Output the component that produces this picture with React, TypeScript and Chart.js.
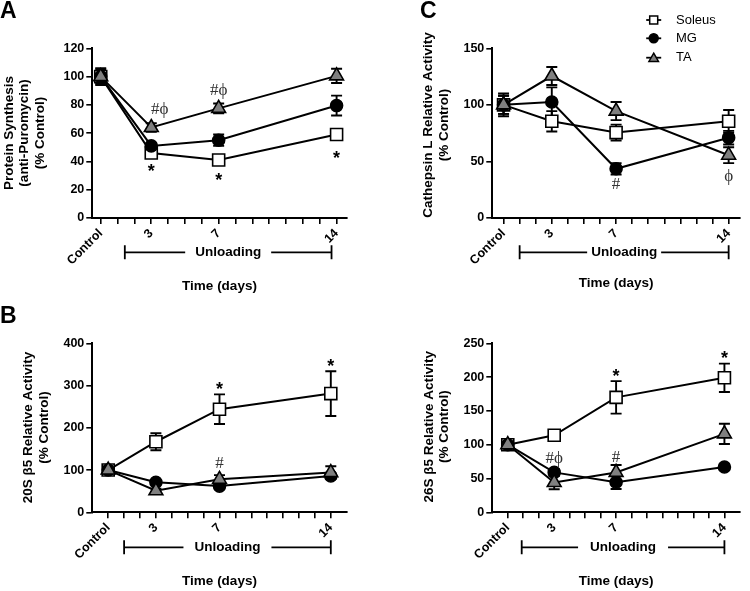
import React, { useEffect, useRef } from 'react';
import { Chart, registerables } from 'chart.js';

Chart.register(...registerables);

const FONT = "'Liberation Sans', Arial, Helvetica, sans-serif";
const SERIF = "'Liberation Serif', 'Times New Roman', serif";

// ---- shared data ----
const days = [0, 3, 7, 14];
const dayTicks = [0, 1, 2, 3, 4, 5, 6, 7, 8, 9, 10, 11, 12, 13, 14];
const tickLabels: Record<number, string> = { 0: 'Control', 3: '3', 7: '7', 14: '14' };
const seriesNames = ['Soleus', 'MG', 'TA'];

// ---- Panel A: protein synthesis ----
const aSoleus = [100, 46, 41, 59];
const aMG = [100, 51, 55, 79.5];
const aTA = [100, 64, 77.5, 100.5];
const aSoleusErr = [6, 2, 2, 3];
const aMGErr = [5, 2, 4, 7];
const aTAErr = [4, 3, 3.5, 5];
const aNotes = [
  { x: 3.5, y: 77, text: '#\u03D5' },
  { x: 7, y: 90.5, text: '#\u03D5' },
  { x: 3, y: 36, text: '*' },
  { x: 7, y: 30, text: '*' },
  { x: 14, y: 45.5, text: '*' },
];
const aTitle = ['Protein Synthesis', '(anti-Puromycin)', '(% Control)'];

// ---- Panel B: 20S beta5 ----
const bSoleus = [100, 167, 244, 281];
const bMG = [100, 71, 62, 86];
const bTA = [100, 51, 78, 94];
const bSoleusErr = [8, 20, 35, 53];
const bMGErr = [5, 4, 5, 6];
const bTAErr = [5, 5, 10, 15];
const bNotes = [
  { x: 7, y: 301, text: '*' },
  { x: 14, y: 356, text: '*' },
  { x: 7, y: 116, text: '#' },
];
const bTitle = ['20S \u03B25 Relative Activity', '(% Control)'];

// ---- Panel C: cathepsin L ----
const cSoleus = [100, 85.5, 75.5, 85.5];
const cMG = [100, 102.5, 43.5, 71];
const cTA = [100, 125.5, 94.5, 55.5];
const cSoleusErr = [10, 9, 7, 10];
const cMGErr = [8, 13, 5, 6];
const cTAErr = [8, 8, 8, 7];
const cNotes = [
  { x: 7, y: 30, text: '#' },
  { x: 14, y: 37, text: '\u03D5' },
];
const cTitle = ['Cathepsin L Relative Activity', '(% Control)'];

// ---- Panel D: 26S beta5 ----
const dSoleus = [100, 114, 170, 199];
const dMG = [100, 59, 44.5, 67];
const dTA = [100, 44, 59, 116];
const dSoleusErr = [8, 8, 24, 21];
const dMGErr = [5, 5, 10, 4];
const dTAErr = [6, 10, 11, 15];
const dNotes = [
  { x: 7, y: 208, text: '*' },
  { x: 14, y: 235, text: '*' },
  { x: 3, y: 80, text: '#\u03D5' },
  { x: 7, y: 82, text: '#' },
];
const dTitle = ['26S \u03B25 Relative Activity', '(% Control)'];

type Note = { x: number; y: number; text: string };

interface PanelCfg {
  left: number; top: number; width: number; height: number;
  area: { left: number; right: number; top: number; bottom: number };
  xMin: number; xMax: number; yMax: number; yStep: number;
  series: number[][]; errors: number[][]; notes: Note[];
  yTitle: string[]; yTitleX: number; yTitleY: number;
  letter?: string; letterX: number; letterY: number;
  bracket: [number, number]; bracketDy: number; bracketGap: number;
  xTitleDy: number; legend?: boolean;
}

const styles = [
  { bg: '#ffffff', style: 'rect', radius: 8.5, order: 2 },
  { bg: '#000000', style: 'circle', radius: 6, order: 1 },
  { bg: '#808080', style: 'triangle', radius: 8, order: 0 },
];

const panels: PanelCfg[] = [
  {
    left: 0, top: 0, width: 375, height: 295,
    area: { left: 92.3, right: 346.7, top: 48.3, bottom: 218 },
    xMin: -0.5, xMax: 14.6, yMax: 120, yStep: 20,
    series: [aSoleus, aMG, aTA], errors: [aSoleusErr, aMGErr, aTAErr], notes: aNotes,
    yTitle: aTitle, yTitleX: 8.8, yTitleY: 133,
    letter: 'A', letterX: 0, letterY: 18.3,
    bracket: [1.43, 13.7], bracketDy: 34.3, bracketGap: 10, xTitleDy: 68.5,
  },
  {
    left: 0, top: 295, width: 375, height: 296,
    area: { left: 92.3, right: 346.7, top: 48.3, bottom: 217.3 },
    xMin: -1, xMax: 15, yMax: 400, yStep: 100,
    series: [bSoleus, bMG, bTA], errors: [bSoleusErr, bMGErr, bTAErr], notes: bNotes,
    yTitle: bTitle, yTitleX: 28.3, yTitleY: 132.5,
    letter: 'B', letterX: 0, letterY: 28.3,
    bracket: [1, 14], bracketDy: 35, bracketGap: 11, xTitleDy: 68.5,
  },
  {
    left: 375, top: 0, width: 375, height: 295,
    area: { left: 117.3, right: 371.7, top: 48.3, bottom: 218 },
    xMin: -0.7, xMax: 14.7, yMax: 150, yStep: 50,
    series: [cSoleus, cMG, cTA], errors: [cSoleusErr, cMGErr, cTAErr], notes: cNotes,
    yTitle: cTitle, yTitleX: 53.5, yTitleY: 125,
    letter: 'C', letterX: 45, letterY: 18.3,
    bracket: [1, 14], bracketDy: 34.3, bracketGap: 4, xTitleDy: 65.5, legend: true,
  },
  {
    left: 375, top: 295, width: 375, height: 296,
    area: { left: 117.3, right: 371, top: 48.3, bottom: 217.3 },
    xMin: -1, xMax: 15, yMax: 250, yStep: 50,
    series: [dSoleus, dMG, dTA], errors: [dSoleusErr, dMGErr, dTAErr], notes: dNotes,
    yTitle: dTitle, yTitleX: 53.8, yTitleY: 131.7,
    letterX: 0, letterY: 0,
    bracket: [0.9, 14], bracketDy: 35, bracketGap: 12, xTitleDy: 68.5,
  },
];

function drawMarker(ctx: CanvasRenderingContext2D, kind: string, x: number, y: number, r: number, fill: string) {
  ctx.beginPath();
  if (kind === 'rect') {
    ctx.rect(x - r, y - r, 2 * r, 2 * r);
  } else if (kind === 'circle') {
    ctx.arc(x, y, r, 0, Math.PI * 2);
  } else {
    ctx.moveTo(x, y - r);
    ctx.lineTo(x + r * 0.866, y + r * 0.5);
    ctx.lineTo(x - r * 0.866, y + r * 0.5);
    ctx.closePath();
  }
  ctx.fillStyle = fill;
  ctx.fill();
  ctx.lineWidth = 1.5;
  ctx.strokeStyle = '#000';
  ctx.stroke();
}

function Panel({ cfg }: { cfg: PanelCfg }) {
  const ref = useRef<HTMLCanvasElement>(null);
  useEffect(() => {
    if (!ref.current) return;
    const a = cfg.area;
    const errPlugin = {
      id: 'errbars',
      beforeDatasetsDraw(chart: any) {
        const ctx = chart.ctx;
        const xs = chart.scales.x;
        const ys = chart.scales.y;
        ctx.save();
        ctx.strokeStyle = '#000';
        ctx.lineWidth = 1.9;
        cfg.series.forEach((vals, si) => {
          vals.forEach((v, j) => {
            const e = cfg.errors[si][j];
            const px = xs.getPixelForValue(days[j]);
            const y1 = ys.getPixelForValue(v + e);
            const y2 = ys.getPixelForValue(Math.max(v - e, 0));
            ctx.beginPath();
            ctx.moveTo(px, y1); ctx.lineTo(px, y2);
            ctx.moveTo(px - 5.5, y1); ctx.lineTo(px + 5.5, y1);
            ctx.moveTo(px - 5.5, y2); ctx.lineTo(px + 5.5, y2);
            ctx.stroke();
          });
        });
        ctx.restore();
      },
    };
    const decoPlugin = {
      id: 'deco',
      afterDraw(chart: any) {
        const ctx: CanvasRenderingContext2D = chart.ctx;
        const ca = chart.chartArea;
        const xs = chart.scales.x;
        const ys = chart.scales.y;
        ctx.save();
        ctx.fillStyle = '#000';
        ctx.strokeStyle = '#000';
        // y title
        ctx.save();
        ctx.translate(cfg.yTitleX, cfg.yTitleY);
        ctx.rotate(-Math.PI / 2);
        ctx.font = `bold 13.5px ${FONT}`;
        ctx.textAlign = 'center';
        ctx.textBaseline = 'middle';
        cfg.yTitle.forEach((t, i) => ctx.fillText(t, 0, i * 15.6));
        ctx.restore();
        // x title
        ctx.font = `bold 13.5px ${FONT}`;
        ctx.textAlign = 'center';
        ctx.textBaseline = 'middle';
        ctx.fillText('Time (days)', (ca.left + ca.right) / 2, ca.bottom + cfg.xTitleDy);
        // bracket
        const bx1 = xs.getPixelForValue(cfg.bracket[0]);
        const bx2 = xs.getPixelForValue(cfg.bracket[1]);
        const by = ca.bottom + cfg.bracketDy;
        const mid = (bx1 + bx2) / 2;
        const tw = ctx.measureText('Unloading').width;
        ctx.fillText('Unloading', mid, by);
        ctx.lineWidth = 1.8;
        ctx.beginPath();
        ctx.moveTo(bx1, by); ctx.lineTo(mid - tw / 2 - cfg.bracketGap, by);
        ctx.moveTo(mid + tw / 2 + cfg.bracketGap, by); ctx.lineTo(bx2, by);
        ctx.moveTo(bx1, by - 7); ctx.lineTo(bx1, by + 7);
        ctx.moveTo(bx2, by - 7); ctx.lineTo(bx2, by + 7);
        ctx.stroke();
        // notes
        ctx.textAlign = 'center';
        ctx.textBaseline = 'alphabetic';
        cfg.notes.forEach((n) => {
          const px = xs.getPixelForValue(n.x);
          const py = ys.getPixelForValue(n.y);
          if (n.text === '*') {
            ctx.font = `bold 18px ${FONT}`;
            ctx.fillStyle = '#000';
            ctx.fillText(n.text, px, py + 0.57 * 18);
          } else {
            ctx.font = `17px ${SERIF}`;
            ctx.fillStyle = '#333';
            ctx.fillText(n.text, px, py + 0.3 * 17);
          }
        });
        // letter
        if (cfg.letter) {
          ctx.fillStyle = '#000';
          ctx.font = `bold 23px ${FONT}`;
          ctx.textAlign = 'left';
          ctx.fillText(cfg.letter, cfg.letterX, cfg.letterY);
        }
        // legend
        if (cfg.legend) {
          const rows = [20, 38.3, 57.7];
          const lx = 278.7;
          const lr = [4, 4.5, 5.5];
          seriesNames.forEach((name, i) => {
            ctx.strokeStyle = '#000';
            ctx.lineWidth = 1.8;
            ctx.beginPath();
            ctx.moveTo(lx - 7.5, rows[i]); ctx.lineTo(lx + 7.5, rows[i]);
            ctx.stroke();
            drawMarker(ctx, styles[i].style, lx, rows[i] + (i === 2 ? 1 : 0), lr[i], styles[i].bg);
            ctx.fillStyle = '#000';
            ctx.font = `13px ${FONT}`;
            ctx.textAlign = 'left';
            ctx.textBaseline = 'middle';
            ctx.fillText(name, 301, rows[i]);
          });
        }
        ctx.restore();
      },
    };

    const chart = new Chart(ref.current, {
      type: 'line',
      data: {
        datasets: cfg.series.map((vals, si) => ({
          label: seriesNames[si],
          data: vals.map((v, j) => ({ x: days[j], y: v })),
          borderColor: '#000',
          borderWidth: 2,
          backgroundColor: styles[si].bg,
          pointBackgroundColor: styles[si].bg,
          pointBorderColor: '#000',
          pointBorderWidth: 1.6,
          pointStyle: styles[si].style as any,
          pointRadius: styles[si].radius,
          order: styles[si].order,
          tension: 0,
          fill: false,
        })),
      },
      options: {
        responsive: false,
        animation: false,
        devicePixelRatio: 1,
        layout: { padding: { left: 0, top: a.top, right: cfg.width - a.right, bottom: 0 } },
        plugins: { legend: { display: false }, tooltip: { enabled: false } },
        scales: {
          x: {
            type: 'linear',
            min: cfg.xMin,
            max: cfg.xMax,
            afterBuildTicks: (s: any) => { s.ticks = dayTicks.map((v) => ({ value: v })); },
            afterFit: (s: any) => { s.height = cfg.height - a.bottom; },
            ticks: {
              autoSkip: false,
              maxRotation: 45,
              minRotation: 45,
              padding: 2,
              color: '#000',
              font: { family: FONT, size: 12.5, weight: 'bold' },
              callback: (v: any) => tickLabels[v as number] ?? '',
            },
            grid: { drawOnChartArea: false, color: '#000', lineWidth: 1.6, tickLength: 6 },
            border: { color: '#000', width: 2 },
          },
          y: {
            min: 0,
            max: cfg.yMax,
            afterFit: (s: any) => { s.width = a.left; },
            ticks: {
              stepSize: cfg.yStep,
              padding: 2,
              color: '#000',
              font: { family: FONT, size: 12.5, weight: 'bold' },
            },
            grid: { drawOnChartArea: false, color: '#000', lineWidth: 1.6, tickLength: 6 },
            border: { color: '#000', width: 2 },
          },
        },
      },
      plugins: [errPlugin, decoPlugin],
    } as any);
    return () => chart.destroy();
  }, [cfg]);
  return (
    <div style={{ position: 'absolute', left: cfg.left, top: cfg.top, width: cfg.width, height: cfg.height }}>
      <canvas ref={ref} width={cfg.width} height={cfg.height} style={{ width: cfg.width, height: cfg.height, display: 'block' }} />
    </div>
  );
}

export default function App() {
  return (
    <div style={{ position: 'absolute', left: 0, top: 0, width: 750, height: 591, background: '#fff', overflow: 'hidden' }}>
      {panels.map((p, i) => <Panel key={i} cfg={p} />)}
    </div>
  );
}
